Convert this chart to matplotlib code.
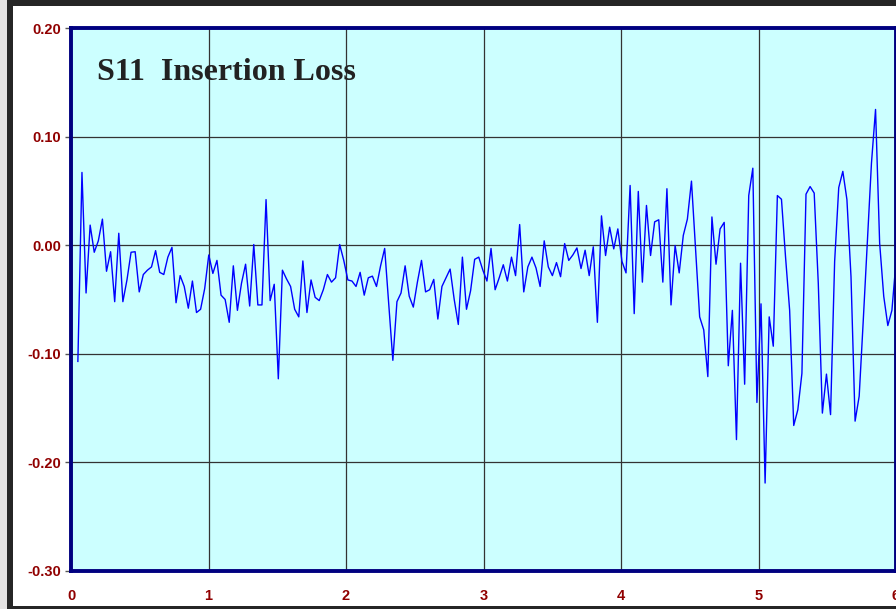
import matplotlib

matplotlib.use("Agg")
import matplotlib.pyplot as plt
import numpy as np
from matplotlib.patches import Rectangle

plt.rcParams["axes.unicode_minus"] = False

# 201-point frequency sweep, 0.05 to 6 (GHz)
freq = np.linspace(0.05, 6.0, 201)

s11 = [
    -0.107, 0.067, -0.044, 0.0185, -0.0065, 0.004, 0.024, -0.024, -0.006, -0.052,
    0.011, -0.052, -0.032, -0.0065, -0.006, -0.043, -0.027, -0.023, -0.020, -0.005,
    -0.025, -0.027, -0.011, -0.002, -0.053, -0.028, -0.038, -0.058, -0.033, -0.062,
    -0.059, -0.040, -0.009, -0.026, -0.014, -0.046, -0.050, -0.071, -0.019, -0.060,
    -0.035, -0.0175, -0.056, 0.0006, -0.055, -0.055, 0.042, -0.051, -0.036, -0.123,
    -0.023, -0.031, -0.038, -0.059, -0.066, -0.0145, -0.062, -0.032, -0.048, -0.051,
    -0.041, -0.027, -0.034, -0.030, 0.0006, -0.014, -0.032, -0.033, -0.038, -0.025,
    -0.046, -0.030, -0.0285, -0.038, -0.019, -0.003, -0.054, -0.106, -0.052, -0.044,
    -0.019, -0.047, -0.057, -0.034, -0.014, -0.043, -0.041, -0.0315, -0.068, -0.038,
    -0.030, -0.022, -0.050, -0.073, -0.011, -0.059, -0.042, -0.013, -0.011, -0.023,
    -0.033, -0.003, -0.041, -0.030, -0.018, -0.033, -0.011, -0.028, 0.019, -0.043,
    -0.020, -0.011, -0.021, -0.038, 0.004, -0.020, -0.028, -0.016, -0.029, 0.0015,
    -0.014, -0.009, -0.0025, -0.0215, -0.0046, -0.028, -0.0015, -0.071, 0.027, -0.0095,
    0.0166, -0.0034, 0.015, -0.0148, -0.0255, 0.055, -0.063, 0.0495, -0.034, 0.0366,
    -0.0095, 0.0215, 0.0234, -0.034, 0.052, -0.055, -0.0003, -0.0255, 0.009, 0.024,
    0.059, -0.003, -0.066, -0.078, -0.121, 0.026, -0.0175, 0.015, 0.021, -0.111,
    -0.060, -0.179, -0.0166, -0.128, 0.0457, 0.0709, -0.1448, -0.054, -0.219, -0.066,
    -0.093, 0.0457, 0.0423, -0.011, -0.060, -0.166, -0.1515, -0.118, 0.047, 0.054,
    0.048, -0.035, -0.1546, -0.1187, -0.156, -0.015, 0.053, 0.068, 0.042, -0.029,
    -0.162, -0.139, -0.069, 0.003, 0.0755, 0.125, 0.002, -0.047, -0.074, -0.060,
    -0.015,
]

x_ticks = [0, 1, 2, 3, 4, 5, 6]
y_ticks = [-0.30, -0.20, -0.10, 0.00, 0.10, 0.20]

TRACE = "#0000FF"
NAVY = "#000080"
TICKRED = "#900000"
PANEL = "#CCFFFF"

W, H = 896, 609
fig = plt.figure(figsize=(W / 100, H / 100), dpi=100)
fig.patch.set_facecolor("#e4e2e2")
# dark window frame and the white page inside it
fig.patches.append(Rectangle((7 / W, 0), 1 - 7 / W, 1, transform=fig.transFigure,
                             facecolor="#262626", edgecolor="none", zorder=-3))
fig.patches.append(Rectangle((13 / W, 3 / H), 1 - 13 / W, 1 - 9 / H,
                             transform=fig.transFigure, facecolor="white",
                             edgecolor="none", zorder=-2))

ax = fig.add_axes([71 / W, 38 / H, 825 / W, 543 / H])
ax.set_zorder(1)
ax.set_facecolor(PANEL)
ax.plot(freq, s11, color=TRACE, lw=1.0, zorder=3)

ax.set_xlim(0, 6)
ax.set_ylim(-0.30, 0.20)
ax.set_xticks(x_ticks, [str(t) for t in x_ticks])
ax.set_yticks(y_ticks, [f"{t:.2f}" for t in y_ticks])
ax.grid(color="#333333", lw=0.9, zorder=1)
ax.set_axisbelow(True)

for lab in ax.get_xticklabels() + ax.get_yticklabels():
    lab.set_fontfamily("Liberation Sans")
    lab.set_fontweight("bold")
    lab.set_fontsize(10.5)
    lab.set_color(TICKRED)
ax.tick_params(axis="y", length=4, width=1, color="#555555", pad=3)
ax.tick_params(axis="x", length=0, pad=13)

for side in ax.spines.values():
    side.set_color(NAVY)
    side.set_linewidth(2.8)
    side.set_zorder(4)

fig.text(97 / W, 1 - 80 / H, "S11  Insertion Loss", family="Liberation Serif",
         fontweight="bold", fontsize=23, color="#222222", va="baseline", zorder=5)

fig.savefig("out.png", dpi=100)
